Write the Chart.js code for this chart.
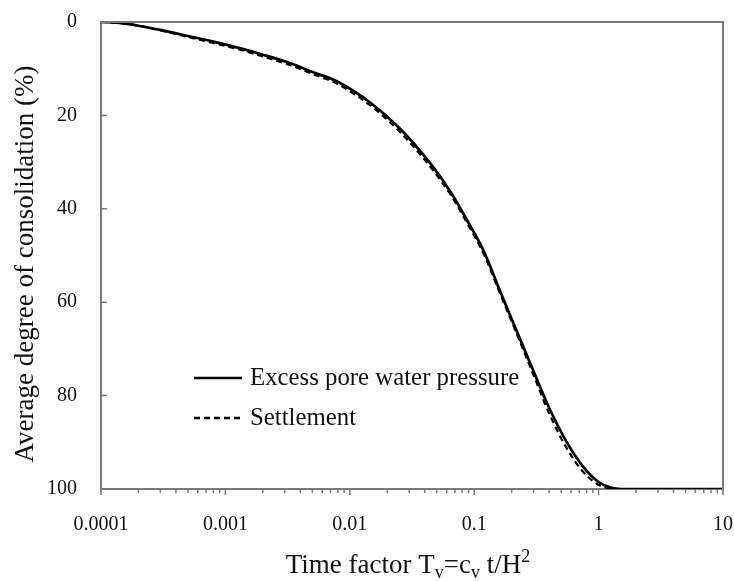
<!DOCTYPE html>
<html>
<head>
<meta charset="utf-8">
<script src="https://cdn.jsdelivr.net/npm/chart.js@4.4.1/dist/chart.umd.min.js"></script>
<style>
html, body { margin: 0; padding: 0; background: #fff; }
#wrap { width: 734px; height: 581px; }
</style>
</head>
<body>
<div id="wrap"><canvas id="consolChart" width="734" height="581"></canvas></div>
<script>
// 시간계수 Tv 와 평균압밀도(%) - 그림에서 읽은 값
const timeFactor   = [0.0001, 0.00014, 0.0002, 0.0003, 0.0005, 0.0008, 0.0013, 0.002, 0.0033, 0.005, 0.008, 0.015, 0.025, 0.045, 0.065, 0.09, 0.12, 0.16, 0.22, 0.3, 0.4, 0.55, 0.75, 1, 1.25, 1.5, 2, 3, 5, 10];
const porePressure = [0, 0.2, 0.8, 1.7, 3.0, 4.2, 5.6, 7.0, 8.8, 10.7, 12.8, 17.5, 22.7, 30.5, 36.5, 43, 49.2, 57.4, 66.2, 74.8, 82.6, 89.8, 95.2, 98.5, 99.7, 100, 100, 100, 100, 100];
const settlement   = [0, 0.2, 0.8, 1.8, 3.2, 4.5, 5.9, 7.4, 9.2, 11.1, 13.3, 18.1, 23.4, 31.2, 37.1, 43.6, 49.8, 57.9, 66.8, 75.6, 83.8, 91.1, 96.3, 99.1, 99.9, 100, 100, 100, 100, 100];
const seriesNames  = ['Excess pore water pressure', 'Settlement'];
const xTickValues  = [0.0001, 0.001, 0.01, 0.1, 1, 10];
const xTickLabels  = ['0.0001', '0.001', '0.01', '0.1', '1', '10'];
const yTickValues  = [0, 20, 40, 60, 80, 100];

const serif = '"Liberation Serif", "Times New Roman", serif';
const frameColor = '#7a7a7a';
const textColor = '#111';

function toPoints(ys) {
	return timeFactor.map((t, i) => ({x: t, y: ys[i]}));
}

// 축 눈금, 위/오른쪽 테두리
const frameTicks = {
	id: 'frameTicks',
	afterDraw(chart) {
		const {ctx, chartArea: a, scales: {x, y}} = chart;
		ctx.save();
		ctx.strokeStyle = frameColor;
		ctx.lineWidth = 2;
		ctx.beginPath();
		ctx.moveTo(a.left, a.top);
		ctx.lineTo(a.right, a.top);
		ctx.lineTo(a.right, a.bottom);
		ctx.stroke();

		ctx.lineWidth = 1.5;
		ctx.beginPath();
		// x축 눈금 (바깥쪽)
		for (let d = 0; d < xTickValues.length; d++) {
			const base = xTickValues[d];
			const px = x.getPixelForValue(base);
			ctx.moveTo(px, a.bottom);
			ctx.lineTo(px, a.bottom + 6);
			if (d < xTickValues.length - 1) {
				for (let m = 2; m <= 9; m++) {
					const mx = x.getPixelForValue(base * m);
					ctx.moveTo(mx, a.bottom);
					ctx.lineTo(mx, a.bottom + 4);
				}
			}
		}
		// y축 눈금 (안쪽)
		yTickValues.forEach(v => {
			const py = y.getPixelForValue(v);
			ctx.moveTo(a.left, py);
			ctx.lineTo(a.left + 6, py);
		});
		ctx.stroke();
		ctx.restore();
	}
};

// 축 제목 (아래첨자, 위첨자 포함)
const axisTitles = {
	id: 'axisTitles',
	afterDraw(chart) {
		const {ctx} = chart;
		ctx.save();
		ctx.fillStyle = textColor;
		ctx.textBaseline = 'middle';

		// y축 제목
		ctx.save();
		ctx.translate(26, 264);
		ctx.rotate(-Math.PI / 2);
		ctx.textAlign = 'center';
		ctx.font = '27px ' + serif;
		ctx.fillText('Average degree of consolidation (%)', 0, 0);
		ctx.restore();

		// x축 제목
		const parts = [
			{t: 'Time factor T', s: 27, dy: 0},
			{t: 'v', s: 18, dy: 7},
			{t: '=c', s: 27, dy: 0},
			{t: 'v', s: 18, dy: 7},
			{t: ' t/H', s: 27, dy: 0},
			{t: '2', s: 18, dy: -9}
		];
		let total = 0;
		parts.forEach(p => {
			ctx.font = p.s + 'px ' + serif;
			p.w = ctx.measureText(p.t).width;
			total += p.w;
		});
		let cx = 408 - total / 2;
		const cy = 566;
		ctx.textAlign = 'left';
		parts.forEach(p => {
			ctx.font = p.s + 'px ' + serif;
			ctx.fillText(p.t, cx, cy + p.dy);
			cx += p.w;
		});
		ctx.restore();
	}
};

// 범례 (그래프 안쪽)
const innerLegend = {
	id: 'innerLegend',
	afterDraw(chart) {
		const {ctx} = chart;
		const rows = [{y: 378, dash: []}, {y: 418, dash: [6, 4]}];
		ctx.save();
		rows.forEach((r, i) => {
			ctx.strokeStyle = '#000';
			ctx.lineWidth = 2.5;
			ctx.setLineDash(r.dash);
			ctx.beginPath();
			ctx.moveTo(194, r.y);
			ctx.lineTo(242, r.y);
			ctx.stroke();
			ctx.setLineDash([]);
			ctx.fillStyle = textColor;
			ctx.font = '24.8px ' + serif;
			ctx.textBaseline = 'middle';
			ctx.textAlign = 'left';
			ctx.fillText(seriesNames[i], 250, r.y);
		});
		ctx.restore();
	}
};

let ctx = document.getElementById('consolChart').getContext('2d');
let consolChart = new Chart(ctx, {
	type: 'line',
	data: {
		datasets: [
			{
				label: seriesNames[0],
				data: toPoints(porePressure),
				borderColor: '#000',
				borderWidth: 2.7,
				pointRadius: 0,
				cubicInterpolationMode: 'monotone',
				fill: false
			},
			{
				label: seriesNames[1],
				data: toPoints(settlement),
				borderColor: '#000',
				borderWidth: 2.2,
				borderDash: [6, 4],
				pointRadius: 0,
				cubicInterpolationMode: 'monotone',
				fill: false
			}
		]
	},
	options: {
		responsive: false,
		animation: false,
		devicePixelRatio: 1,
		layout: {
			padding: {left: 0, right: 11, top: 22, bottom: 0}
		},
		plugins: {
			legend: {display: false},
			tooltip: {enabled: false}
		},
		scales: {
			x: {
				type: 'logarithmic',
				min: 0.0001,
				max: 10,
				grid: {display: false},
				border: {display: true, color: frameColor, width: 2},
				afterBuildTicks(scale) {
					scale.ticks = xTickValues.map(v => ({value: v}));
				},
				afterFit(scale) {
					scale.height = 92;
					scale.paddingLeft = 0;
					scale.paddingRight = 0;
				},
				ticks: {
					autoSkip: false,
					maxRotation: 0,
					padding: 16,
					color: textColor,
					font: {family: serif, size: 20},
					callback(value) {
						const i = xTickValues.findIndex(v => Math.abs(v - value) / v < 1e-6);
						return i >= 0 ? xTickLabels[i] : '';
					}
				}
			},
			y: {
				type: 'linear',
				reverse: true,
				min: 0,
				max: 100,
				grid: {display: false},
				border: {display: true, color: frameColor, width: 2},
				afterBuildTicks(scale) {
					scale.ticks = yTickValues.map(v => ({value: v}));
				},
				afterFit(scale) {
					scale.width = 101;
					scale.paddingTop = 0;
					scale.paddingBottom = 0;
				},
				ticks: {
					padding: 16,
					color: textColor,
					font: {family: serif, size: 20}
				}
			}
		}
	},
	plugins: [frameTicks, axisTitles, innerLegend]
});
</script>
</body>
</html>
